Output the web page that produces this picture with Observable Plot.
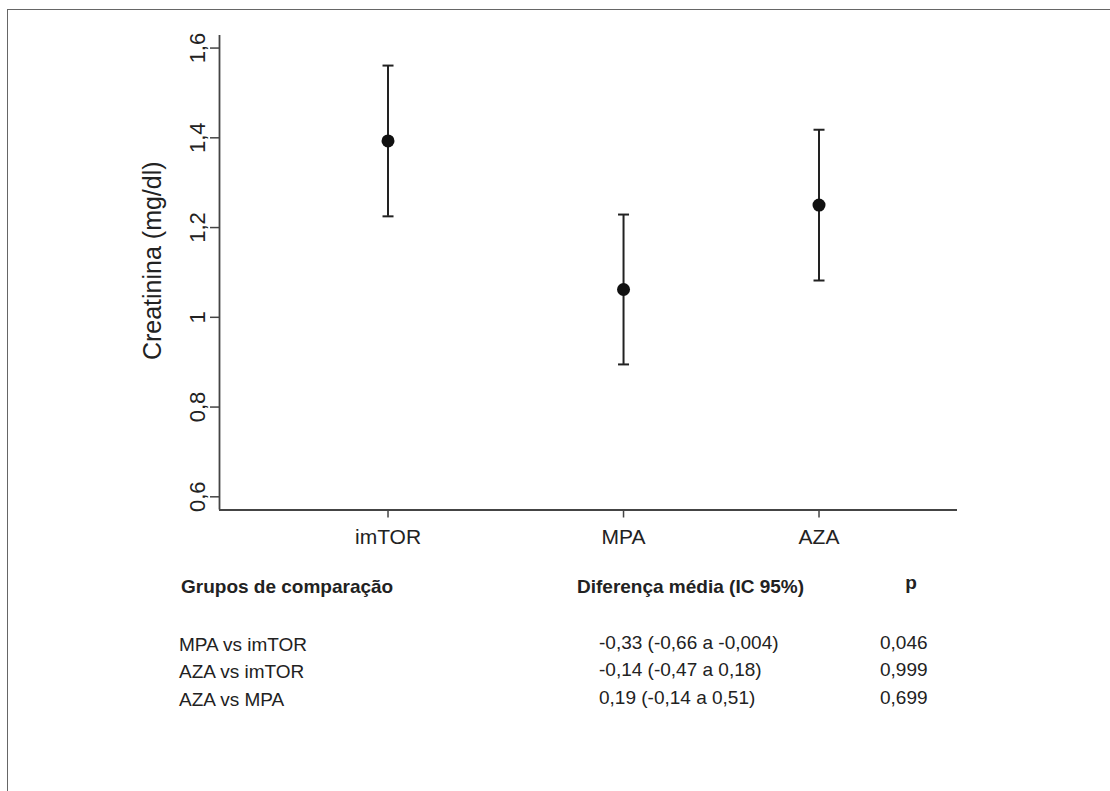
<!DOCTYPE html>
<html><head><meta charset="utf-8">
<script src="https://cdn.jsdelivr.net/npm/d3@7"></script>
<script src="https://cdn.jsdelivr.net/npm/@observablehq/plot@0.6"></script>
<style>
body{margin:0;background:#fff;font-family:"Liberation Sans",Arial,Helvetica,sans-serif;overflow:hidden;}
#wrap{position:relative;width:1110px;height:791px;overflow:hidden;}
#frame{position:absolute;left:7px;top:9px;width:1200px;height:900px;border-top:1.5px solid #666;border-left:1.5px solid #666;}
#chart{position:absolute;left:0;top:0;}
.t{position:absolute;font-size:19px;color:#222;white-space:nowrap;line-height:19px;}
.b{font-weight:bold;}
</style></head>
<body><div id="wrap"><div id="frame"></div><div id="chart"></div><div id="table"></div></div>
<script>
// ---- chart data ----
const groups = ["imTOR", "MPA", "AZA"];
const groupPos = [1, 2, 2.83];
const means = [1.393, 1.062, 1.250];
const lower = [1.225, 0.895, 1.082];
const upper = [1.561, 1.229, 1.418];
const yTicks = [0.6, 0.8, 1.0, 1.2, 1.4, 1.6];
const yLabel = "Creatinina (mg/dl)";

// ---- table data ----
const tableHeaders = ["Grupos de comparação", "Diferença média (IC 95%)", "p"];
const comparisons = ["MPA vs imTOR", "AZA vs imTOR", "AZA vs MPA"];
const meanDiffs = ["-0,33 (-0,66 a -0,004)", "-0,14 (-0,47 a 0,18)", "0,19 (-0,14 a 0,51)"];
const pValues = ["0,046", "0,999", "0,699"];

const rows = groups.map((g, i) => ({group: g, pos: groupPos[i], mean: means[i], lo: lower[i], hi: upper[i]}));

const capSymbol = {
  draw(ctx, size) {
    const r = Math.sqrt(size / Math.PI);
    ctx.moveTo(-r, 0);
    ctx.lineTo(r, 0);
  }
};

const fmt = d => String(+d.toFixed(1)).replace(".", ",");
const ink = "#222";

const plot = Plot.plot({
  width: 1110,
  height: 560,
  marginLeft: 219,
  marginRight: 153,
  marginTop: 35,
  marginBottom: 50.5,
  style: {fontFamily: '"Liberation Sans", Arial, Helvetica, sans-serif', color: ink, background: "transparent"},
  x: {type: "linear", domain: [0.2845, 3.418]},
  y: {domain: [0.5706, 1.628]},
  marks: [
    Plot.ruleX([0.2845], {stroke: "#444", strokeWidth: 1.8}),
    Plot.ruleY([0.5706], {stroke: "#444", strokeWidth: 1.8}),
    Plot.axisY({ticks: yTicks, tickFormat: fmt, tickSize: 9, tickPadding: 6, tickRotate: -90, fontSize: 22, label: null, stroke: "#444", strokeWidth: 1.5}),
    Plot.axisX({ticks: groupPos, tickFormat: d => groups[groupPos.indexOf(d)], tickSize: 8, tickPadding: 11, fontSize: 21, label: null, stroke: "#444", strokeWidth: 1.5}),
    Plot.text([yLabel], {frameAnchor: "left", textAnchor: "middle", rotate: -90, dx: -67, dy: -12, fontSize: 25, fill: ink}),
    Plot.ruleX(rows, {x: "pos", y1: "lo", y2: "hi", stroke: ink, strokeWidth: 2}),
    Plot.dot(rows, {x: "pos", y: "hi", symbol: capSymbol, r: 5.5, stroke: ink, strokeWidth: 2}),
    Plot.dot(rows, {x: "pos", y: "lo", symbol: capSymbol, r: 5.5, stroke: ink, strokeWidth: 2}),
    Plot.dot(rows, {x: "pos", y: "mean", r: 6.5, fill: "#111", stroke: "none"})
  ]
});
document.getElementById("chart").appendChild(plot);

// ---- comparison table (text below the chart) ----
const table = document.getElementById("table");
function addText(txt, left, baseline, cls, align) {
  const el = document.createElement("div");
  el.className = "t " + (cls || "");
  el.textContent = txt;
  el.style.top = (baseline - 16) + "px";
  el.style.left = left + "px";
  if (align === "center") el.style.transform = "translateX(-50%)";
  table.appendChild(el);
}
addText(tableHeaders[0], 181, 593, "b");
addText(tableHeaders[1], 577, 593, "b");
addText(tableHeaders[2], 911, 589, "b", "center");
const rowBase = [651, 678, 706];
comparisons.forEach((c, i) => {
  addText(c, 179, rowBase[i]);
  addText(meanDiffs[i], 599, rowBase[i] - 2);
  addText(pValues[i], 880, rowBase[i] - 2);
});
</script>
</body></html>
